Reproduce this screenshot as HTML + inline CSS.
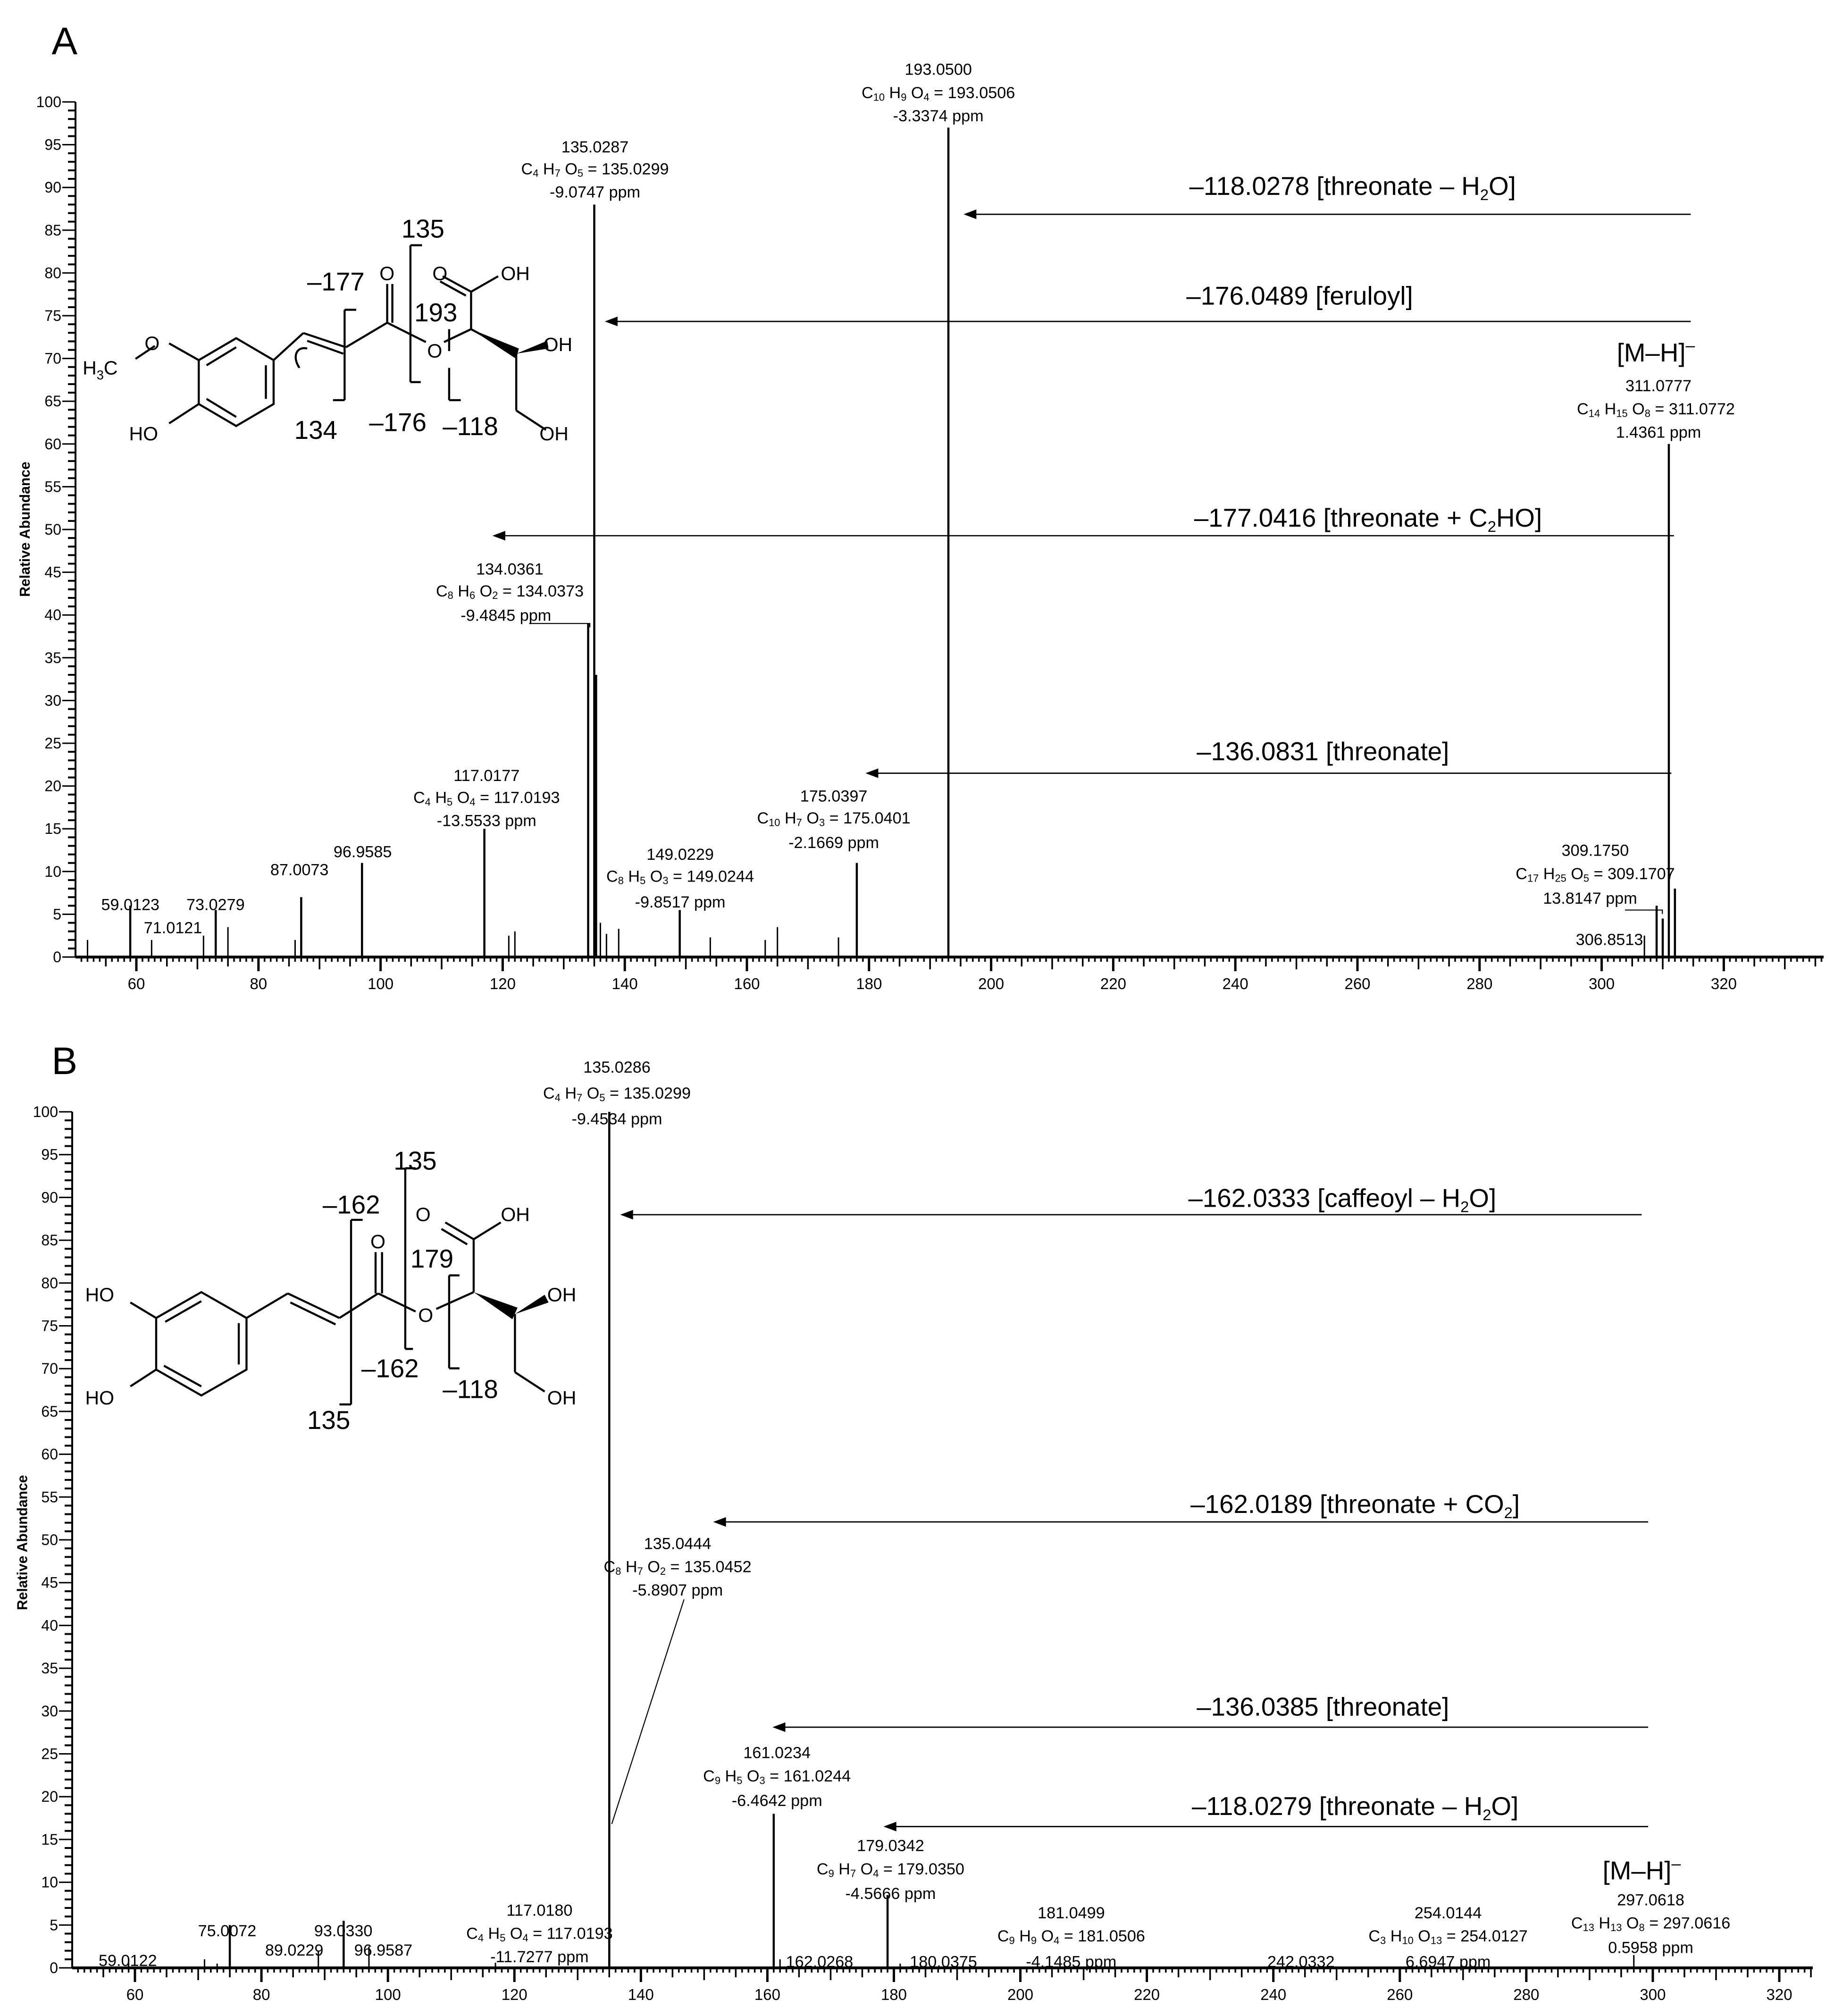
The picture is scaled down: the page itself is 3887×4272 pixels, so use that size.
<!DOCTYPE html>
<html><head><meta charset="utf-8"><style>
html,body{margin:0;padding:0;background:#fff}
svg{display:block}
text{font-family:"Liberation Sans Narrow","Liberation Sans",sans-serif;fill:#000}
</style></head><body>
<svg id="fig" xmlns="http://www.w3.org/2000/svg" width="3887" height="4272" viewBox="0 0 3887 4272">
<g id="plots"></g>
<g id="ann" transform="scale(2.7354)">
 <!-- Panel A -->
 <text x="40" y="42" font-size="30">A</text>
 <text transform="translate(23,410) rotate(-90)" text-anchor="middle" font-size="11" font-weight="bold">Relative Abundance</text>
 <g font-size="12.5" text-anchor="middle">
  <text x="727" y="58">193.0500</text>
  <text x="727" y="76">C<tspan font-size="8" dy="2">10</tspan><tspan dy="-2"> H</tspan><tspan font-size="8" dy="2">9</tspan><tspan dy="-2"> O</tspan><tspan font-size="8" dy="2">4</tspan><tspan dy="-2"> = 193.0506</tspan></text>
  <text x="727" y="94">-3.3374 ppm</text>
  <text x="461" y="118">135.0287</text>
  <text x="461" y="135">C<tspan font-size="8" dy="2">4</tspan><tspan dy="-2"> H</tspan><tspan font-size="8" dy="2">7</tspan><tspan dy="-2"> O</tspan><tspan font-size="8" dy="2">5</tspan><tspan dy="-2"> = 135.0299</tspan></text>
  <text x="461" y="153">-9.0747 ppm</text>
  <text x="395" y="445">134.0361</text>
  <text x="395" y="462">C<tspan font-size="8" dy="2">8</tspan><tspan dy="-2"> H</tspan><tspan font-size="8" dy="2">6</tspan><tspan dy="-2"> O</tspan><tspan font-size="8" dy="2">2</tspan><tspan dy="-2"> = 134.0373</tspan></text>
  <text x="392" y="481">-9.4845 ppm</text>
  <text x="377" y="605">117.0177</text>
  <text x="377" y="622">C<tspan font-size="8" dy="2">4</tspan><tspan dy="-2"> H</tspan><tspan font-size="8" dy="2">5</tspan><tspan dy="-2"> O</tspan><tspan font-size="8" dy="2">4</tspan><tspan dy="-2"> = 117.0193</tspan></text>
  <text x="377" y="640">-13.5533 ppm</text>
  <text x="281" y="664">96.9585</text>
  <text x="232" y="678">87.0073</text>
  <text x="101" y="705">59.0123</text>
  <text x="134" y="723">71.0121</text>
  <text x="167" y="705">73.0279</text>
  <text x="527" y="666">149.0229</text>
  <text x="527" y="683">C<tspan font-size="8" dy="2">8</tspan><tspan dy="-2"> H</tspan><tspan font-size="8" dy="2">5</tspan><tspan dy="-2"> O</tspan><tspan font-size="8" dy="2">3</tspan><tspan dy="-2"> = 149.0244</tspan></text>
  <text x="527" y="703">-9.8517 ppm</text>
  <text x="646" y="621">175.0397</text>
  <text x="646" y="638">C<tspan font-size="8" dy="2">10</tspan><tspan dy="-2"> H</tspan><tspan font-size="8" dy="2">7</tspan><tspan dy="-2"> O</tspan><tspan font-size="8" dy="2">3</tspan><tspan dy="-2"> = 175.0401</tspan></text>
  <text x="646" y="657">-2.1669 ppm</text>
  <text x="1236" y="663">309.1750</text>
  <text x="1236" y="681">C<tspan font-size="8" dy="2">17</tspan><tspan dy="-2"> H</tspan><tspan font-size="8" dy="2">25</tspan><tspan dy="-2"> O</tspan><tspan font-size="8" dy="2">5</tspan><tspan dy="-2"> = 309.1707</tspan></text>
  <text x="1232" y="700">13.8147 ppm</text>
  <text x="1247" y="732">306.8513</text>
  <text x="1285" y="303">311.0777</text>
  <text x="1283" y="321">C<tspan font-size="8" dy="2">14</tspan><tspan dy="-2"> H</tspan><tspan font-size="8" dy="2">15</tspan><tspan dy="-2"> O</tspan><tspan font-size="8" dy="2">8</tspan><tspan dy="-2"> = 311.0772</tspan></text>
  <text x="1285" y="339">1.4361 ppm</text>
 </g>
 <text x="1283" y="280" font-size="20" text-anchor="middle">[M–H]<tspan dy="-8" font-size="13">–</tspan></text>
 <polyline points="410,483 457,483 457,486" fill="none" stroke="#000" stroke-width="0.8"/>
 <polyline points="1259,705 1288,705 1288,708" fill="none" stroke="#000" stroke-width="0.8"/>
 <g font-size="20" text-anchor="middle">
  <text x="1048" y="151">–118.0278 [threonate – H<tspan font-size="12" dy="4">2</tspan><tspan dy="-4">O]</tspan></text>
  <text x="1007" y="236">–176.0489 [feruloyl]</text>
  <text x="1060" y="408">–177.0416 [threonate + C<tspan font-size="12" dy="4">2</tspan><tspan dy="-4">HO]</tspan></text>
  <text x="1025" y="589">–136.0831 [threonate]</text>
 </g>
 <g stroke="#000" stroke-width="1">
  <line x1="1310" y1="166" x2="752" y2="166"/><polygon points="748,166 756,163 756,169"/>
  <line x1="1310" y1="249" x2="474" y2="249"/><polygon points="470,249 478,246 478,252"/>
  <line x1="1297" y1="415" x2="387" y2="415"/><polygon points="383,415 391,412 391,418"/>
  <line x1="1295" y1="599" x2="676" y2="599"/><polygon points="672,599 680,596 680,602"/>
 </g>
 <!-- structure A -->
 <g stroke="#000" stroke-width="1.6" fill="none">
  <polygon points="183,262 212,279 212,313 183,330 154,313 154,279"/>
  <line x1="206" y1="283" x2="206" y2="309"/><line x1="160" y1="309" x2="183" y2="323"/><line x1="183" y1="269" x2="160" y2="283"/>
  <line x1="154" y1="279" x2="131" y2="266"/><line x1="120" y1="268" x2="105" y2="278"/>
  <line x1="154" y1="313" x2="131" y2="328"/>
  <line x1="212" y1="279" x2="235" y2="258"/><line x1="235" y1="258" x2="268" y2="269"/><line x1="238" y1="264" x2="266" y2="274"/>
  <line x1="268" y1="269" x2="300" y2="250"/><line x1="300" y1="250" x2="300" y2="220"/><line x1="304" y1="250" x2="304" y2="220"/>
  <line x1="300" y1="250" x2="330" y2="265"/><line x1="344" y1="265" x2="365" y2="255"/>
  <line x1="365" y1="255" x2="365" y2="226"/><line x1="365" y1="226" x2="343" y2="214"/><line x1="361" y1="229" x2="341" y2="218"/><line x1="365" y1="226" x2="386" y2="214"/>
  <line x1="365" y1="255" x2="400" y2="274"/><line x1="400" y1="274" x2="400" y2="318"/><line x1="400" y1="318" x2="423" y2="333"/>
  <line x1="267" y1="240" x2="267" y2="310"/><line x1="267" y1="240" x2="276" y2="240"/><line x1="258" y1="310" x2="267" y2="310"/>
  <line x1="318" y1="190" x2="318" y2="296"/><line x1="318" y1="190" x2="327" y2="190"/><line x1="318" y1="296" x2="326" y2="296"/>
  <line x1="348" y1="285" x2="348" y2="310"/><line x1="348" y1="310" x2="357" y2="310"/><line x1="348" y1="255" x2="348" y2="272"/>
  <path d="M232,285 C226,276 230,268 238,270"/>
 </g>
 <polygon points="365,255 402,270 400,278" fill="#000"/>
 <polygon points="400,274 424,264 425,270" fill="#000"/>
 <g font-size="15">
  <text x="112" y="271">O</text><text x="64" y="290">H<tspan font-size="10" dy="4">3</tspan><tspan dy="-4">C</tspan></text>
  <text x="100" y="341">HO</text><text x="294" y="217">O</text><text x="331" y="277">O</text>
  <text x="335" y="217">O</text><text x="388" y="217">OH</text><text x="421" y="272">OH</text><text x="418" y="341">OH</text>
 </g>
 <g font-size="20">
  <text x="311" y="184">135</text><text x="238" y="225">–177</text><text x="321" y="249">193</text>
  <text x="228" y="340">134</text><text x="286" y="334">–176</text><text x="343" y="337">–118</text>
 </g>

 <!-- Panel B -->
 <text x="40" y="832" font-size="30">B</text>
 <text transform="translate(21,1195) rotate(-90)" text-anchor="middle" font-size="11" font-weight="bold">Relative Abundance</text>
 <g font-size="12.5" text-anchor="middle">
  <text x="478" y="831">135.0286</text>
  <text x="478" y="851">C<tspan font-size="8" dy="2">4</tspan><tspan dy="-2"> H</tspan><tspan font-size="8" dy="2">7</tspan><tspan dy="-2"> O</tspan><tspan font-size="8" dy="2">5</tspan><tspan dy="-2"> = 135.0299</tspan></text>
  <text x="478" y="871">-9.4534 ppm</text>
  <text x="525" y="1200">135.0444</text>
  <text x="525" y="1218">C<tspan font-size="8" dy="2">8</tspan><tspan dy="-2"> H</tspan><tspan font-size="8" dy="2">7</tspan><tspan dy="-2"> O</tspan><tspan font-size="8" dy="2">2</tspan><tspan dy="-2"> = 135.0452</tspan></text>
  <text x="525" y="1236">-5.8907 ppm</text>
  <text x="602" y="1362">161.0234</text>
  <text x="602" y="1380">C<tspan font-size="8" dy="2">9</tspan><tspan dy="-2"> H</tspan><tspan font-size="8" dy="2">5</tspan><tspan dy="-2"> O</tspan><tspan font-size="8" dy="2">3</tspan><tspan dy="-2"> = 161.0244</tspan></text>
  <text x="602" y="1399">-6.4642 ppm</text>
  <text x="690" y="1434">179.0342</text>
  <text x="690" y="1452">C<tspan font-size="8" dy="2">9</tspan><tspan dy="-2"> H</tspan><tspan font-size="8" dy="2">7</tspan><tspan dy="-2"> O</tspan><tspan font-size="8" dy="2">4</tspan><tspan dy="-2"> = 179.0350</tspan></text>
  <text x="690" y="1471">-4.5666 ppm</text>
  <text x="830" y="1486">181.0499</text>
  <text x="830" y="1504">C<tspan font-size="8" dy="2">9</tspan><tspan dy="-2"> H</tspan><tspan font-size="8" dy="2">9</tspan><tspan dy="-2"> O</tspan><tspan font-size="8" dy="2">4</tspan><tspan dy="-2"> = 181.0506</tspan></text>
  <text x="830" y="1524">-4.1485 ppm</text>
  <text x="1122" y="1486">254.0144</text>
  <text x="1122" y="1504">C<tspan font-size="8" dy="2">3</tspan><tspan dy="-2"> H</tspan><tspan font-size="8" dy="2">10</tspan><tspan dy="-2"> O</tspan><tspan font-size="8" dy="2">13</tspan><tspan dy="-2"> = 254.0127</tspan></text>
  <text x="1122" y="1524">6.6947 ppm</text>
  <text x="1279" y="1476">297.0618</text>
  <text x="1279" y="1494">C<tspan font-size="8" dy="2">13</tspan><tspan dy="-2"> H</tspan><tspan font-size="8" dy="2">13</tspan><tspan dy="-2"> O</tspan><tspan font-size="8" dy="2">8</tspan><tspan dy="-2"> = 297.0616</tspan></text>
  <text x="1279" y="1513">0.5958 ppm</text>
  <text x="99" y="1523">59.0122</text>
  <text x="176" y="1500">75.0072</text>
  <text x="266" y="1500">93.0330</text>
  <text x="228" y="1515">89.0229</text>
  <text x="297" y="1515">96.9587</text>
  <text x="418" y="1484">117.0180</text>
  <text x="418" y="1502">C<tspan font-size="8" dy="2">4</tspan><tspan dy="-2"> H</tspan><tspan font-size="8" dy="2">5</tspan><tspan dy="-2"> O</tspan><tspan font-size="8" dy="2">4</tspan><tspan dy="-2"> = 117.0193</tspan></text>
  <text x="418" y="1520">-11.7277 ppm</text>
  <text x="635" y="1524">162.0268</text>
  <text x="731" y="1524">180.0375</text>
  <text x="1008" y="1524">242.0332</text>
 </g>
 <text x="1272" y="1456" font-size="20" text-anchor="middle">[M–H]<tspan dy="-8" font-size="13">–</tspan></text>
 <line x1="474" y1="1413" x2="530" y2="1239" stroke="#000" stroke-width="0.8"/>
 <g font-size="20" text-anchor="middle">
  <text x="1040" y="935">–162.0333 [caffeoyl – H<tspan font-size="12" dy="4">2</tspan><tspan dy="-4">O]</tspan></text>
  <text x="1050" y="1172">–162.0189 [threonate + CO<tspan font-size="12" dy="4">2</tspan><tspan dy="-4">]</tspan></text>
  <text x="1025" y="1329">–136.0385 [threonate]</text>
  <text x="1050" y="1406">–118.0279 [threonate – H<tspan font-size="12" dy="4">2</tspan><tspan dy="-4">O]</tspan></text>
 </g>
 <g stroke="#000" stroke-width="1">
  <line x1="1272" y1="941" x2="486" y2="941"/><polygon points="482,941 490,938 490,944"/>
  <line x1="1277" y1="1179" x2="558" y2="1179"/><polygon points="554,1179 562,1176 562,1182"/>
  <line x1="1277" y1="1338" x2="604" y2="1338"/><polygon points="600,1338 608,1335 608,1341"/>
  <line x1="1277" y1="1415" x2="690" y2="1415"/><polygon points="686,1415 694,1412 694,1418"/>
 </g>
 <!-- structure B -->
 <g stroke="#000" stroke-width="1.6" fill="none">
  <polygon points="156,1001 191,1021 191,1061 156,1081 121,1061 121,1021"/>
  <line x1="185" y1="1025" x2="185" y2="1057"/><line x1="127" y1="1058" x2="156" y2="1074"/><line x1="156" y1="1008" x2="128" y2="1024"/>
  <line x1="121" y1="1021" x2="101" y2="1009"/><line x1="121" y1="1061" x2="101" y2="1074"/>
  <line x1="191" y1="1021" x2="223" y2="1002"/><line x1="223" y1="1002" x2="263" y2="1021"/><line x1="225" y1="1009" x2="260" y2="1026"/>
  <line x1="263" y1="1021" x2="293" y2="1002"/><line x1="291" y1="1002" x2="291" y2="970"/><line x1="296" y1="1002" x2="296" y2="970"/>
  <line x1="293" y1="1002" x2="322" y2="1016"/><line x1="338" y1="1014" x2="367" y2="1001"/>
  <line x1="367" y1="1001" x2="367" y2="960"/><line x1="367" y1="960" x2="345" y2="947"/><line x1="362" y1="964" x2="342" y2="952"/><line x1="367" y1="960" x2="388" y2="947"/>
  <line x1="399" y1="1018" x2="399" y2="1063"/><line x1="399" y1="1063" x2="422" y2="1078"/>
  <line x1="272" y1="945" x2="272" y2="1088"/><line x1="272" y1="945" x2="281" y2="945"/><line x1="263" y1="1088" x2="272" y2="1088"/>
  <line x1="314" y1="905" x2="314" y2="1045"/><line x1="314" y1="905" x2="322" y2="905"/><line x1="314" y1="1045" x2="320" y2="1045"/>
  <line x1="348" y1="988" x2="348" y2="1060"/><line x1="348" y1="1060" x2="356" y2="1060"/><line x1="348" y1="988" x2="356" y2="988"/>
 </g>
 <polygon points="367,1001 401,1013 397,1022" fill="#000"/>
 <polygon points="399,1018 422,1003 425,1009" fill="#000"/>
 <g font-size="15">
  <text x="66" y="1008">HO</text><text x="66" y="1088">HO</text><text x="287" y="967">O</text><text x="324" y="1024">O</text>
  <text x="322" y="946">O</text><text x="388" y="946">OH</text><text x="424" y="1008">OH</text><text x="424" y="1088">OH</text>
 </g>
 <g font-size="20">
  <text x="305" y="906">135</text><text x="250" y="940">–162</text><text x="318" y="982">179</text>
  <text x="280" y="1067">–162</text><text x="343" y="1083">–118</text><text x="238" y="1107">135</text>
 </g>
</g>
</svg>
<script>
// Panel A data
const mzA = [52,59,62.5,71,73,75,86,87,96.96,117,121,122,134,135,135.3,136,137,139,149,154,163,165,175,178,193,307,309,310,311,312];
const intA = [2,6,2,2.5,5.5,3.5,2,7,11,15,2.5,3,39,88,33,4,2.7,3.3,5.5,2.3,2,3.5,2.3,11,97,2.5,6,4.5,60,8];
// Panel B data
const mzB = [59,71,73,75,89,93,97,117,135,161,162,179,181,297];
const intB = [1,1,0.5,5,2,5.5,2.5,0.6,100,18,1,8.5,0.5,1.5];
const xTicks = [60,80,100,120,140,160,180,200,220,240,260,280,300,320];
const yTicks = [0,5,10,15,20,25,30,35,40,45,50,55,60,65,70,75,80,85,90,95,100];

const NS = 'http://www.w3.org/2000/svg';
const root = document.getElementById('plots');
function mk(tag, attrs, parent){const e=document.createElementNS(NS,tag);for(const k in attrs)e.setAttribute(k,attrs[k]);parent.appendChild(e);return e;}

function panel(cfg, mz, inten, id){
  const sx = v => cfg.x60 + (v-60)*cfg.kx;
  const sy = v => cfg.y0 - v*(cfg.y0-cfg.y100)/100;
  const g = mk('g',{},root);
  
  
  const xa = mk('line',{x1:cfg.left,y1:cfg.y0,x2:cfg.right,y2:cfg.y0,stroke:'#000','stroke-width':6},g);
  
  
  const ya = mk('line',{x1:cfg.left,y1:cfg.y0,x2:cfg.left,y2:cfg.y100,stroke:'#000','stroke-width':4},g);
  
  
  const mmin = Math.ceil(60-(sx(60)-cfg.left)/cfg.kx), mmax = Math.floor(60+(cfg.right-sx(60))/cfg.kx);
  for(let m=mmin;m<=mmax;m++){
    const len = m%20===0?30:(m%10===0?26:(m%5===0?20:10));
    mk('line',{x1:sx(m),y1:cfg.y0,x2:sx(m),y2:cfg.y0+len,stroke:'#000','stroke-width':m%20===0?5:3.5},g);
  }
  xTicks.forEach(t=>{
    const tx = mk('text',{x:sx(t),y:cfg.y0+68,'font-size':33,'text-anchor':'middle'},g);
    tx.textContent = t;
    
    
  });
  for(let v=0; v<=100; v++){
    const len = v%5===0?28:16;
    mk('line',{x1:cfg.left-len,y1:sy(v),x2:cfg.left,y2:sy(v),stroke:'#000','stroke-width':v%5===0?3:4},g);
  }
  yTicks.forEach(t=>{
    const ty = mk('text',{x:cfg.left-30,y:sy(t)+11,'font-size':32,'text-anchor':'end'},g);
    ty.textContent = t;
    
    
  });
  mz.forEach((m,i)=>{
    const p = mk('line',{x1:sx(m),y1:cfg.y0,x2:sx(m),y2:sy(inten[i]),stroke:'#000','stroke-width':inten[i]>4?4.5:3},g);
    
    
  });
}
panel({x60:289,kx:12.94,y0:2028,y100:216,left:160,right:3865}, mzA, intA, 'a');
panel({x60:286,kx:13.404,y0:4170,y100:2356,left:153,right:3842}, mzB, intB, 'b');
</script>
</body></html>
